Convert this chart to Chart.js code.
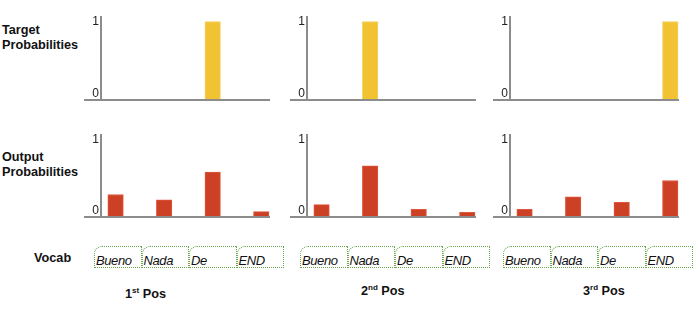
<!DOCTYPE html>
<html>
<head>
<meta charset="utf-8">
<script src="https://cdn.jsdelivr.net/npm/chart.js@4.4.1/dist/chart.umd.min.js"></script>
<style>
  html, body { margin:0; padding:0; background:#fff; }
  body { width:700px; height:321px; position:relative; overflow:hidden; font-family:"Liberation Sans", Arial, sans-serif; color:#111; }
  .lbl { position:absolute; font-weight:bold; font-size:12.7px; line-height:15px; }
  canvas { position:absolute; }
  .box { position:absolute; top:246px; height:20px; width:45.5px; border:1.5px dotted #6aa84f; border-top-left-radius:8px; }
  .box span { position:absolute; left:1px; top:6px; font-style:italic; font-size:13px; letter-spacing:-0.4px; color:#111; }
  .pos { position:absolute; font-weight:bold; font-size:12.7px; }
  .pos sup { font-size:8px; vertical-align:0; position:relative; top:-5px; }
</style>
</head>
<body>
<div class="lbl" style="left:2px;top:23px;">Target<br>Probabilities</div>
<div class="lbl" style="left:2px;top:150px;">Output<br>Probabilities</div>
<div class="lbl" style="left:34px;top:251px;">Vocab</div>

<canvas id="t0" width="188" height="87" style="left:84px;top:16px;"></canvas>
<canvas id="t1" width="188" height="87" style="left:290px;top:16px;"></canvas>
<canvas id="t2" width="188" height="87" style="left:493px;top:16px;"></canvas>
<canvas id="o0" width="188" height="86" style="left:84px;top:134px;"></canvas>
<canvas id="o1" width="188" height="86" style="left:290px;top:134px;"></canvas>
<canvas id="o2" width="188" height="86" style="left:493px;top:134px;"></canvas>

<div id="vocab"></div>

<div class="pos" style="left:125px;top:287px;">1<sup>st</sup> Pos</div>
<div class="pos" style="left:361px;top:284px;">2<sup>nd</sup> Pos</div>
<div class="pos" style="left:583px;top:284px;">3<sup>rd</sup> Pos</div>

<script>
// ---- data ----
const categories = ['Bueno', 'Nada', 'De', 'END'];
const target1 = [0, 0, 1, 0];
const target2 = [0, 1, 0, 0];
const target3 = [0, 0, 0, 1];
const output1 = [0.29, 0.22, 0.58, 0.07];
const output2 = [0.16, 0.66, 0.10, 0.06];
const output3 = [0.10, 0.26, 0.19, 0.47];
const yTicks = [0, 1];

// ---- vocab boxes ----
const boxStarts = [94, 300, 503];
const vocab = document.getElementById('vocab');
boxStarts.forEach(start => {
  categories.forEach((c, i) => {
    const d = document.createElement('div');
    d.className = 'box';
    d.style.left = (start + i * 47.5) + 'px';
    const s = document.createElement('span');
    s.textContent = c;
    d.appendChild(s);
    vocab.appendChild(d);
  });
});

// ---- charts ----
const AXIS = '#8c8c8c';
function makeChart(id, values, fill, edge) {
  new Chart(document.getElementById(id), {
    type: 'bar',
    data: {
      datasets: [{
        data: values.map((v, i) => ({ x: i, y: v, label: categories[i] })),
        backgroundColor: fill,
        borderColor: edge,
        borderWidth: 1,
        barThickness: 15.5
      }]
    },
    options: {
      responsive: false,
      animation: false,
      layout: { padding: { top: 0, right: 2, bottom: 3, left: 0 } },
      plugins: { legend: { display: false }, tooltip: { enabled: false } },
      scales: {
        x: { type: 'linear', min: -0.3, max: 3.18, offset: false, grid: { offset: false }, display: false },
        y: {
          min: 0, max: 1.07,
          afterBuildTicks: s => { s.ticks = yTicks.map(v => ({ value: v })); },
          afterFit: s => { s.width = 17; s.paddingTop = 0; s.paddingBottom = 0; },
          border: { display: true, color: AXIS, width: 2 },
          grid: {
            color: c => (c.tick && c.tick.value === 0) ? AXIS : 'rgba(0,0,0,0)',
            lineWidth: 2,
            tickLength: 17,
            drawOnChartArea: true,
            drawTicks: true
          },
          ticks: {
            padding: -15,
            color: '#222',
            font: { family: 'Liberation Sans, Arial, sans-serif', size: 12, lineHeight: 1.0 },
            callback: v => v === 0 ? ['0', ''] : String(v)
          }
        }
      }
    }
  });
}
const YEL = '#f1c232', YEL_E = '#f5cf5e';
const RED = '#cc4125', RED_E = '#e0573c';
makeChart('t0', target1, YEL, YEL_E);
makeChart('t1', target2, YEL, YEL_E);
makeChart('t2', target3, YEL, YEL_E);
makeChart('o0', output1, RED, RED_E);
makeChart('o1', output2, RED, RED_E);
makeChart('o2', output3, RED, RED_E);
</script>
</body>
</html>
